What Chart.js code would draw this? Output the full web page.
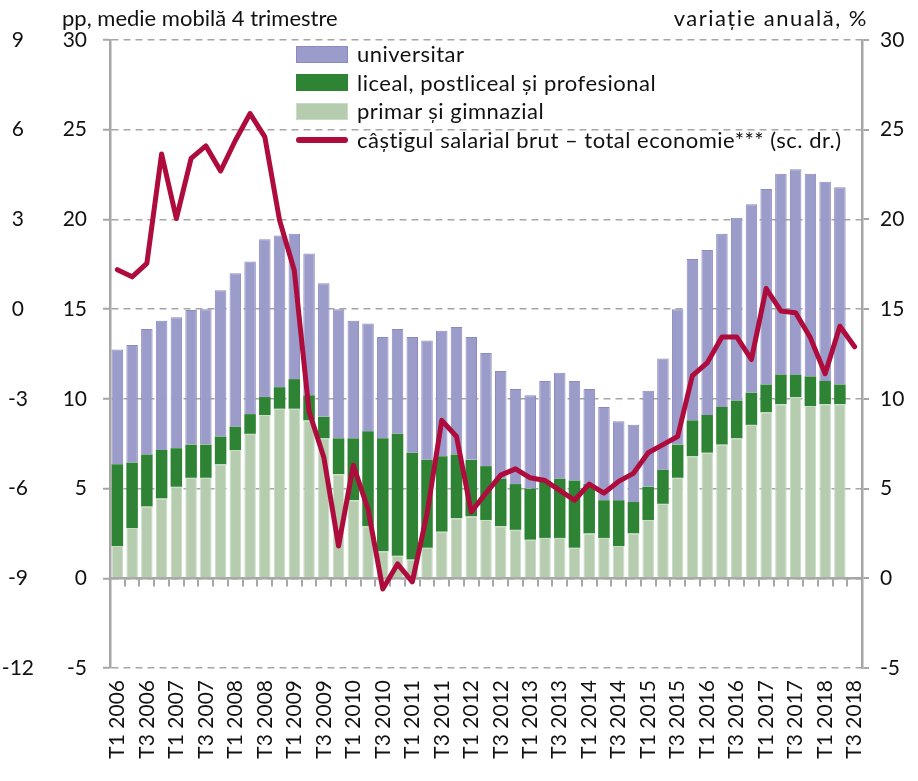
<!DOCTYPE html>
<html><head><meta charset="utf-8">
<script src="https://cdn.jsdelivr.net/npm/chart.js@4.4.1/dist/chart.umd.min.js"></script>
<style>
html,body{margin:0;padding:0;background:#fff;}
#wrap{position:relative;width:918px;height:781px;font-family:Lato,sans-serif;color:#111;}
canvas{position:absolute;left:0;top:0;}
.t{position:absolute;font-size:22px;white-space:nowrap;line-height:22px;}
#legend{position:absolute;left:296px;top:40px;font-size:22px;line-height:22px;letter-spacing:0.5px;}
.row{height:28.6px;display:flex;align-items:center;white-space:nowrap;}
.sw{width:52px;height:17px;margin-right:9px;box-sizing:border-box;border:1px solid;}
.ln{width:52px;height:6px;border-radius:3px;margin-right:9px;}
</style></head>
<body><div id="wrap"><canvas id="c" width="918" height="781"></canvas>
<div class="t" style="left:62px;top:7px">pp, medie mobilă 4 trimestre</div>
<div class="t" style="right:50px;top:7px;letter-spacing:1.5px">variație anuală, %</div>
<div id="legend"></div></div>
<script>
const categories = ["T1 2006","T2 2006","T3 2006","T4 2006","T1 2007","T2 2007","T3 2007","T4 2007",
"T1 2008","T2 2008","T3 2008","T4 2008","T1 2009","T2 2009","T3 2009","T4 2009",
"T1 2010","T2 2010","T3 2010","T4 2010","T1 2011","T2 2011","T3 2011","T4 2011",
"T1 2012","T2 2012","T3 2012","T4 2012","T1 2013","T2 2013","T3 2013","T4 2013",
"T1 2014","T2 2014","T3 2014","T4 2014","T1 2015","T2 2015","T3 2015","T4 2015",
"T1 2016","T2 2016","T3 2016","T4 2016","T1 2017","T2 2017","T3 2017","T4 2017",
"T1 2018","T2 2018","T3 2018"];
const primar = [1.8,2.8,4.0,4.45,5.1,5.6,5.6,6.35,7.15,8.05,9.1,9.45,9.45,8.8,7.8,5.8,4.35,2.9,1.5,1.25,
1.05,1.7,2.6,3.35,3.45,3.25,2.9,2.7,2.15,2.25,2.25,1.7,2.5,2.25,1.8,2.5,3.25,4.15,5.6,6.8,
7.0,7.45,7.8,8.55,9.25,9.7,10.1,9.6,9.7,9.7];
const liceal = [4.55,3.65,2.9,2.7,2.15,1.85,1.85,1.55,1.3,1.1,1.0,1.2,1.65,1.4,1.2,2.0,3.45,5.3,6.3,6.8,
5.95,4.9,4.2,3.55,3.15,3.0,2.65,2.55,2.85,3.2,3.3,3.75,2.75,2.1,2.55,1.75,1.85,1.9,1.85,2.0,
2.1,2.1,2.1,1.8,1.55,1.65,1.25,1.65,1.3,1.1];
const universitar = [6.4,6.55,7.0,7.2,7.3,7.5,7.55,8.15,8.55,8.5,8.8,8.45,8.1,7.9,7.45,7.2,6.55,6.0,5.65,5.85,
6.45,6.65,7.0,7.1,6.85,6.3,6.0,5.3,5.2,5.55,5.9,5.55,5.3,5.2,4.4,4.3,5.35,6.2,7.55,9.0,
9.2,9.65,10.2,10.5,10.9,11.2,11.45,11.3,11.1,11.0];
const castigSalarial = [17.2,16.8,17.55,23.65,20.05,23.4,24.1,22.7,24.4,25.9,24.6,19.95,17.15,9.3,6.75,1.8,6.3,3.85,-0.6,0.8,
-0.2,3.6,8.8,7.9,3.7,4.75,5.75,6.1,5.6,5.45,4.9,4.35,5.25,4.75,5.4,5.85,7.0,7.45,7.9,11.3,
12.0,13.45,13.45,12.2,16.15,14.9,14.8,13.4,11.4,14.05,12.9];
const leftTicks = [30,25,20,15,10,5,0,-5];
const outerTicks = [9,6,3,0,-3,-6,-9,-12];

const GRAY = '#a6a6a6';
const TXT = '#111';
Chart.defaults.font.family = 'Lato, sans-serif';
Chart.defaults.color = TXT;

const datasets = [
  {type:'bar', label:'universitar', data:universitar, backgroundColor:'#9c9ccb', borderColor:'#8a8ac0', borderWidth:1, order:3, yAxisID:'y', barPercentage:0.78, categoryPercentage:1},
  {type:'bar', label:'liceal, postliceal și profesional', data:liceal, backgroundColor:'#2e8434', borderColor:'#2e8434', borderWidth:0, order:2, yAxisID:'y', barPercentage:0.78, categoryPercentage:1},
  {type:'bar', label:'primar și gimnazial', data:primar, backgroundColor:'#b5ccaf', borderColor:'#c9dcc5', borderWidth:1, order:1, yAxisID:'y', barPercentage:0.78, categoryPercentage:1},
  {type:'line', label:'câștigul salarial brut – total economie*** (sc. dr.)', data:castigSalarial, borderColor:'#ad0c3d', borderWidth:5, pointRadius:0, tension:0, borderJoinStyle:'round', borderCapStyle:'round', order:0, yAxisID:'y1'}
];

new Chart(document.getElementById('c'), {
  data:{labels:categories, datasets},
  options:{
    responsive:false, animation:false, devicePixelRatio:1,
    layout:{padding:{left:0,right:0,top:40,bottom:0}},
    plugins:{legend:{display:false}, tooltip:{enabled:false}},
    scales:{
      x:{type:'category', position:'bottom', stacked:true, offset:true,
         grid:{display:false, drawTicks:false}, border:{display:false},
         ticks:{autoSkip:false, minRotation:90, maxRotation:90, padding:12, font:{size:21}, color:TXT,
                callback:(v,i)=> i%2===0 ? categories[i] : ''},
         afterFit:s=>{s.height=113;}},
      x2:{type:'category', position:{y:0}, offset:true,
          grid:{offset:true, drawOnChartArea:false, drawTicks:true, tickLength:7, color:GRAY, lineWidth:2},
          border:{display:true, color:GRAY, width:2.5},
          ticks:{display:false}},
      y:{position:'left', stacked:true, min:-5, max:30, weight:0,
         afterBuildTicks:s=>{s.ticks=leftTicks.map(v=>({value:v}));},
         grid:{color:GRAY, lineWidth:1.5, drawTicks:true, tickLength:7, tickColor:GRAY, tickWidth:2},
         border:{display:true, color:GRAY, width:2.5, dash:[7,5]},
         ticks:{padding:16, font:{size:21}, color:TXT},
         afterFit:s=>{s.width=66;}},
      yo:{position:'left', min:-12, max:9, weight:1,
          afterBuildTicks:s=>{s.ticks=outerTicks.map(v=>({value:v}));},
          grid:{display:false, drawTicks:false}, border:{display:false},
          ticks:{padding:10, crossAlign:'center', font:{size:21}, color:TXT},
          afterFit:s=>{s.width=44;}},
      y1:{position:'right', min:-5, max:30,
          afterBuildTicks:s=>{s.ticks=leftTicks.map(v=>({value:v}));},
          grid:{drawOnChartArea:false, drawTicks:true, tickLength:7, color:GRAY, lineWidth:2},
          border:{display:true, color:GRAY, width:2.5},
          ticks:{padding:11, font:{size:21}, color:TXT},
          afterFit:s=>{s.width=56;}}
    }
  }
});

const leg = document.getElementById('legend');
datasets.forEach(d=>{
  const r = document.createElement('div'); r.className='row';
  const s = document.createElement('div');
  if (d.type==='line'){ s.className='ln'; s.style.background=d.borderColor; }
  else { s.className='sw'; s.style.background=d.backgroundColor; s.style.borderColor=d.borderColor; }
  const t = document.createElement('span'); t.textContent=d.label;
  r.appendChild(s); r.appendChild(t); leg.appendChild(r);
});
</script>
</body></html>
